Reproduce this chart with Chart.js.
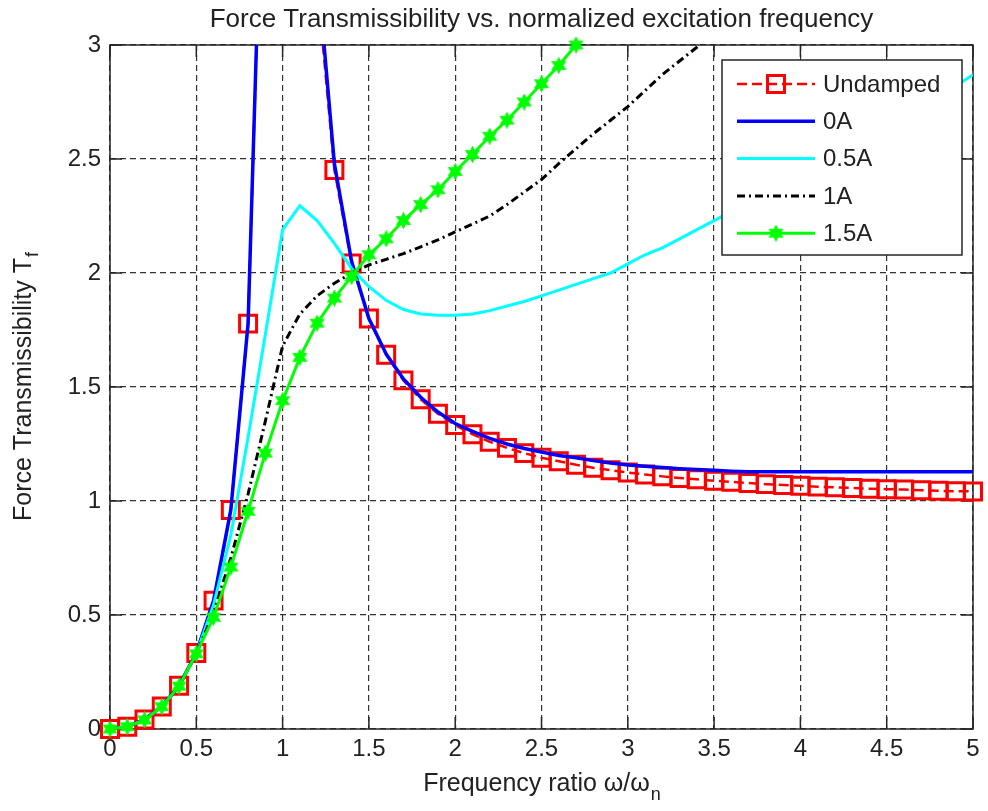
<!DOCTYPE html>
<html>
<head>
<meta charset="utf-8">
<title>Force Transmissibility</title>
<script src="https://cdn.jsdelivr.net/npm/chart.js@4.4.0/dist/chart.umd.min.js"></script>
<style>
  body { margin: 0; background: #fff; }
  #wrap { width: 988px; height: 811px; }
</style>
</head>
<body>
<div id="wrap"><canvas id="transChart" width="988" height="811"></canvas></div>
<script>
// frequency ratio w/wn, one sample every 0.1
const ratio = [
  0.0, 0.1, 0.2, 0.3, 0.4, 0.5, 0.6, 0.7, 0.8, 0.9,
  1.0, 1.1, 1.2, 1.3, 1.4, 1.5, 1.6, 1.7, 1.8, 1.9,
  2.0, 2.1, 2.2, 2.3, 2.4, 2.5, 2.6, 2.7, 2.8, 2.9,
  3.0, 3.1, 3.2, 3.3, 3.4, 3.5, 3.6, 3.7, 3.8, 3.9,
  4.0, 4.1, 4.2, 4.3, 4.4, 4.5, 4.6, 4.7, 4.8, 4.9, 5.0
];

// undamped system (infinite at resonance -> null)
const undamped = [
  0, 0.010, 0.042, 0.099, 0.190, 0.333, 0.563, 0.961, 1.778, 4.263,
  null, 5.762, 3.273, 2.452, 2.042, 1.800, 1.641, 1.529, 1.446, 1.383,
  1.333, 1.293, 1.260, 1.233, 1.210, 1.190, 1.174, 1.159, 1.146, 1.135,
  1.125, 1.116, 1.108, 1.101, 1.095, 1.089, 1.084, 1.079, 1.074, 1.070,
  1.067, 1.063, 1.060, 1.057, 1.054, 1.052, 1.050, 1.047, 1.045, 1.043, 1.042
];

// MR damper at 0 A
const amp0 = [
  0, 0.010, 0.042, 0.099, 0.190, 0.333, 0.563, 0.961, 1.778, 4.300,
  9.500, 5.800, 3.350, 2.480, 2.050, 1.800, 1.645, 1.535, 1.455, 1.390,
  1.340, 1.305, 1.275, 1.250, 1.230, 1.215, 1.200, 1.190, 1.177, 1.167,
  1.158, 1.152, 1.147, 1.142, 1.138, 1.135, 1.131, 1.128, 1.128, 1.128,
  1.128, 1.128, 1.128, 1.128, 1.128, 1.128, 1.128, 1.128, 1.128, 1.128, 1.128
];

// 0.5 A
const amp05 = [
  0, 0.010, 0.040, 0.098, 0.188, 0.330, 0.545, 0.850, 1.280, 1.730,
  2.190, 2.295, 2.230, 2.130, 2.020, 1.940, 1.880, 1.840, 1.820, 1.815,
  1.815, 1.820, 1.835, 1.855, 1.875, 1.900, 1.925, 1.950, 1.975, 2.000,
  2.040, 2.080, 2.110, 2.150, 2.190, 2.230, 2.270, 2.310, 2.350, 2.390,
  2.440, 2.480, 2.520, 2.560, 2.600, 2.650, 2.690, 2.730, 2.780, 2.820, 2.870
];

// 1 A (runs out of the top of the axes past 3.4)
const amp1 = [
  0, 0.010, 0.040, 0.098, 0.188, 0.330, 0.510, 0.750, 1.030, 1.350,
  1.680, 1.820, 1.900, 1.955, 2.000, 2.035, 2.060, 2.085, 2.115, 2.145,
  2.180, 2.215, 2.250, 2.300, 2.355, 2.410, 2.480, 2.545, 2.610, 2.670,
  2.730, 2.800, 2.870, 2.930, 2.990, 3.060
];

// 1.5 A (stops at 2.7)
const amp15 = [
  0, 0.010, 0.040, 0.098, 0.188, 0.330, 0.490, 0.710, 0.955, 1.210,
  1.440, 1.630, 1.780, 1.890, 1.985, 2.080, 2.150, 2.230, 2.300, 2.365,
  2.445, 2.520, 2.600, 2.670, 2.750, 2.830, 2.910, 3.000
];

const seriesNames = ['Undamped', '0A', '0.5A', '1A', '1.5A'];
const xRange = [0, 5];
const yRange = [0, 3];
const tickStep = 0.5;

const FONT = "'Liberation Sans', Arial, sans-serif";
const TEXT = '#222';

function toPoints(ys) {
    return ys.map((v, i) => ({ x: ratio[i], y: v }));
}

// plain tick text: 0, 0.5, 1, 1.5 ...
function tickText(v) {
    return String(+Number(v).toFixed(1));
}

// filled six-point star used as the 1.5A marker
function makeStar(size, color) {
    const c = document.createElement('canvas');
    c.width = size;
    c.height = size;
    const g = c.getContext('2d');
    const cx = size / 2, cy = size / 2;
    const ro = size / 2 - 0.5, ri = ro * 0.52;
    g.beginPath();
    for (let i = 0; i < 12; i++) {
        const r = i % 2 ? ri : ro;
        const a = -Math.PI / 2 + i * Math.PI / 6;
        g.lineTo(cx + r * Math.cos(a), cy + r * Math.sin(a));
    }
    g.closePath();
    g.fillStyle = color;
    g.fill();
    g.strokeStyle = color;
    g.lineWidth = 1;
    g.stroke();
    return c;
}
const starMarker = makeStar(17, '#00ff00');

// box, inward ticks on all four sides, title and axis titles
const axesFrame = {
    id: 'axesFrame',
    beforeDatasetsDraw(chart) {
        const { ctx, chartArea: a, scales: { x, y } } = chart;
        const len = 12;
        ctx.save();
        ctx.strokeStyle = '#262626';
        ctx.lineWidth = 1.5;
        ctx.setLineDash([]);
        ctx.strokeRect(a.left, a.top, a.width, a.height);
        ctx.beginPath();
        x.ticks.forEach(t => {
            const px = x.getPixelForValue(t.value);
            ctx.moveTo(px, a.bottom); ctx.lineTo(px, a.bottom - len);
            ctx.moveTo(px, a.top); ctx.lineTo(px, a.top + len);
        });
        y.ticks.forEach(t => {
            const py = y.getPixelForValue(t.value);
            ctx.moveTo(a.left, py); ctx.lineTo(a.left + len, py);
            ctx.moveTo(a.right, py); ctx.lineTo(a.right - len, py);
        });
        ctx.stroke();
        ctx.restore();
    },
    afterDraw(chart) {
        const { ctx, chartArea: a } = chart;
        const midX = (a.left + a.right) / 2;
        ctx.save();
        ctx.fillStyle = TEXT;
        ctx.textBaseline = 'alphabetic';

        // title
        ctx.textAlign = 'center';
        ctx.font = '26px ' + FONT;
        ctx.fillText('Force Transmissibility vs. normalized excitation frequency', midX, 27);

        ctx.textAlign = 'left';
        // x title with subscript n
        const xMain = 'Frequency ratio \u03c9/\u03c9';
        ctx.font = '25px ' + FONT;
        const wMain = ctx.measureText(xMain).width;
        ctx.font = '18px ' + FONT;
        const wSub = ctx.measureText('n').width;
        const sx = midX - (wMain + wSub) / 2;
        ctx.font = '25px ' + FONT;
        ctx.fillText(xMain, sx, 791);
        ctx.font = '18px ' + FONT;
        ctx.fillText('n', sx + wMain + 1, 800);

        // y title with subscript f, rotated
        const yMain = 'Force Transmissibility T';
        ctx.translate(31, (a.top + a.bottom) / 2);
        ctx.rotate(-Math.PI / 2);
        ctx.font = '25px ' + FONT;
        const hMain = ctx.measureText(yMain).width;
        ctx.font = '18px ' + FONT;
        const hSub = ctx.measureText('f').width;
        const sy = -(hMain + hSub) / 2;
        ctx.font = '25px ' + FONT;
        ctx.fillText(yMain, sy, 0);
        ctx.font = '18px ' + FONT;
        ctx.fillText('f', sy + hMain + 1, 7);
        ctx.restore();
    }
};

// legend box in the upper right corner of the axes
const boxLegend = {
    id: 'boxLegend',
    afterDraw(chart) {
        const { ctx, chartArea: a } = chart;
        const w = 240, h = 195;
        const left = a.right - 11 - w, top = a.top + 15;
        ctx.save();
        ctx.fillStyle = '#fff';
        ctx.fillRect(left, top, w, h);
        ctx.strokeStyle = '#262626';
        ctx.lineWidth = 1.5;
        ctx.strokeRect(left, top, w, h);

        chart.data.datasets.forEach((ds, i) => {
            const rowY = top + 24 + i * 37.3;
            const x1 = left + 15, x2 = left + 93;
            ctx.beginPath();
            ctx.setLineDash(ds.borderDash || []);
            ctx.strokeStyle = ds.borderColor;
            ctx.lineWidth = ds.borderWidth;
            ctx.moveTo(x1, rowY);
            ctx.lineTo(x2, rowY);
            ctx.stroke();
            ctx.setLineDash([]);
            if (ds.pointRadius > 0) {
                ctx.strokeStyle = ds.pointBorderColor || ds.borderColor;
                ctx.fillStyle = 'rgba(0,0,0,0)';
                ctx.lineWidth = ds.pointBorderWidth || 1;
                Chart.helpers.drawPoint(ctx, {
                    pointStyle: ds.pointStyle,
                    radius: ds.pointRadius,
                    borderWidth: ds.pointBorderWidth || 1,
                    rotation: 0
                }, (x1 + x2) / 2, rowY);
            }
            ctx.fillStyle = TEXT;
            ctx.font = '24px ' + FONT;
            ctx.textAlign = 'left';
            ctx.textBaseline = 'middle';
            ctx.fillText(ds.label, left + 101, rowY + 1);
        });
        ctx.restore();
    }
};

const ctx = document.getElementById('transChart').getContext('2d');

new Chart(ctx, {
    type: 'line',
    data: {
        datasets: [
            {
                label: seriesNames[0],
                data: toPoints(undamped),
                borderColor: '#ff0000',
                borderWidth: 2.5,
                borderDash: [10, 5],
                pointStyle: 'rect',
                pointRadius: 12,
                pointBorderWidth: 3,
                pointBorderColor: '#ff0000',
                pointBackgroundColor: 'rgba(0,0,0,0)',
                clip: { left: 14, right: 14, top: 0, bottom: 14 },
                order: 5
            },
            {
                label: seriesNames[1],
                data: toPoints(amp0),
                borderColor: '#0000ff',
                borderWidth: 3.5,
                pointRadius: 0,
                order: 4
            },
            {
                label: seriesNames[2],
                data: toPoints(amp05),
                borderColor: '#00ffff',
                borderWidth: 3,
                pointRadius: 0,
                order: 3
            },
            {
                label: seriesNames[3],
                data: toPoints(amp1),
                borderColor: '#000000',
                borderWidth: 3,
                borderDash: [8, 4, 2, 4],
                pointRadius: 0,
                order: 2
            },
            {
                label: seriesNames[4],
                data: toPoints(amp15),
                borderColor: '#00ff00',
                borderWidth: 3,
                pointStyle: starMarker,
                pointRadius: 7,
                pointBorderWidth: 1,
                clip: { left: 10, right: 10, top: 9, bottom: 10 },
                order: 1
            }
        ]
    },
    options: {
        responsive: false,
        animation: false,
        devicePixelRatio: 1,
        spanGaps: false,
        layout: { padding: { top: 45, right: 5, left: 0, bottom: 0 } },
        plugins: {
            legend: { display: false },
            tooltip: { enabled: false },
            title: { display: false }
        },
        scales: {
            x: {
                type: 'linear',
                min: xRange[0],
                max: xRange[1],
                ticks: {
                    stepSize: tickStep,
                    color: TEXT,
                    padding: 6,
                    maxRotation: 0,
                    font: { family: FONT, size: 24 },
                    callback: tickText
                },
                grid: { color: '#333', lineWidth: 1.2, drawTicks: false },
                border: { display: false, dash: [6, 4] },
                afterFit(scale) {
                    scale.height = 82;
                    scale.paddingLeft = 0;
                    scale.paddingRight = 0;
                }
            },
            y: {
                type: 'linear',
                min: yRange[0],
                max: yRange[1],
                ticks: {
                    stepSize: tickStep,
                    color: TEXT,
                    padding: 9,
                    font: { family: FONT, size: 24 },
                    callback: tickText
                },
                grid: { color: '#333', lineWidth: 1.2, drawTicks: false },
                border: { display: false, dash: [6, 4] },
                afterFit(scale) {
                    scale.width = 110;
                    scale.paddingTop = 0;
                    scale.paddingBottom = 0;
                }
            }
        }
    },
    plugins: [axesFrame, boxLegend]
});
</script>
</body>
</html>
